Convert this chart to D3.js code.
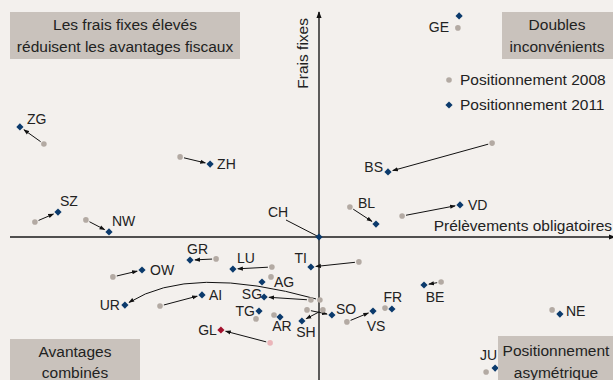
<!DOCTYPE html>
<html><head><meta charset="utf-8">
<script src="https://cdn.jsdelivr.net/npm/d3@7"></script>
<style>
html,body{margin:0;padding:0;background:#f3f0ed;}
svg{display:block;font-family:"Liberation Sans",Arial,sans-serif;}
</style></head>
<body><svg id="c" width="613" height="380"></svg>
<script>
// ---- data ----
const cantons = ["ZG","ZH","GE","BS","SZ","NW","CH","BL","VD","GR","OW","LU","TI","AG","UR","AI","SG","TG","AR","SH","SO","GL","BE","FR","VS","NE","JU"];
const prelev2008 = [-91.7,-46.3,46.3,57.7,-94.7,-77.7,null,10.3,27.7,-34.3,-68.7,-15.7,13.3,-16.0,0.3,-53.0,-2.7,-21.0,-15.0,1.3,-4.0,-16.3,40.7,22.0,9.3,77.7,55.7];
const frais2008  = [31.0,26.7,69.7,31.3,5.0,5.7,null,10.0,7.0,-7.3,-13.3,-10.0,-8.3,-13.3,-21.0,-23.0,-21.0,-27.3,-26.0,-24.3,-24.3,-35.3,-15.0,-23.7,-28.3,-24.3,-45.0];
const prelev2011 = [-99.7,-36.3,46.7,23.0,-87.0,-70.0,0,19.0,47.0,-43.0,-59.0,-28.7,-2.7,-19.0,-64.7,-39.0,-18.3,-20.0,-13.0,-5.7,4.3,-32.7,35.0,24.3,18.0,80.3,58.7];
const frais2011  = [36.7,24.3,73.7,21.7,8.3,1.7,0,4.3,10.7,-7.7,-11.0,-10.7,-10.0,-15.0,-22.7,-19.3,-20.0,-24.7,-26.7,-28.0,-26.0,-31.0,-16.0,-24.0,-24.7,-25.7,-43.7];
const highlighted = ["GL"];
const curvedMoves = {UR: [-43, -9]};          // bend point of the UR move (data units)
const legendLabels = ["Positionnement 2008", "Positionnement 2011"];
const quadrantTexts = [
  ["Les frais fixes élevés", "réduisent les avantages fiscaux"],
  ["Doubles", "inconvénients"],
  ["Avantages", "combinés"],
  ["Positionnement", "asymétrique"]
];
const axisTitles = ["Prélèvements obligatoires", "Frais fixes"];

// ---- label placement (px offsets from 2011 marker) ----
const labelPos = {
  ZG:[7,-8,"start"], ZH:[7,0,"start"], GE:[-10,11,"end"], BS:[-5,-5,"end"],
  SZ:[2,-11,"start"], NW:[3,-11,"start"], CH:[-41,-25,"middle"], BL:[-18,-21,"start"],
  VD:[8,0,"start"], GR:[-3,-11,"start"], OW:[8,0,"start"], LU:[4,-11,"start"],
  TI:[-4,-9,"end"], AG:[12,0,"start"], UR:[-5,0,"end"], AI:[7,0,"start"],
  SG:[-2,-3,"end"], TG:[-4,0,"end"], AR:[2,9,"middle"], SH:[4,11,"middle"],
  SO:[4,-6,"start"], GL:[-4,0,"end"], BE:[11,12,"middle"], FR:[1,-12,"middle"],
  VS:[3,15,"middle"], NE:[6,-3,"start"], JU:[-15,-13,"start"]
};

const W = 613, H = 380;
const svg = d3.select("#c");
svg.append("rect").attr("width", W).attr("height", H).attr("fill", "#f3f0ed");

const x = d3.scaleLinear().domain([-103, 98]).range([10, 613]);
const y = d3.scaleLinear().domain([-47.67, 75]).range([380, 12]);

const data = cantons.map((c, i) => ({
  code: c, x0: prelev2008[i], y0: frais2008[i], x1: prelev2011[i], y1: frais2011[i],
  hi: highlighted.includes(c)
}));

const defs = svg.append("defs");
defs.append("marker").attr("id", "ah").attr("viewBox", "0 -3 7 6")
  .attr("refX", 6).attr("refY", 0).attr("markerWidth", 6).attr("markerHeight", 5)
  .attr("markerUnits", "userSpaceOnUse").attr("orient", "auto")
  .append("path").attr("d", "M0,-2.5L7,0L0,2.5Z").attr("fill", "#111");
defs.append("marker").attr("id", "axh").attr("viewBox", "0 -4 8 8")
  .attr("refX", 7).attr("refY", 0).attr("markerWidth", 7).attr("markerHeight", 7)
  .attr("markerUnits", "userSpaceOnUse").attr("orient", "auto")
  .append("path").attr("d", "M0,-3L8,0L0,3Z").attr("fill", "#111");

// axes
svg.append("line").attr("x1", x.range()[0]).attr("x2", W + 2).attr("y1", y(0)).attr("y2", y(0))
  .attr("stroke", "#1a1a1a").attr("stroke-width", 1.4).attr("marker-end", "url(#axh)");
svg.append("line").attr("x1", x(0)).attr("x2", x(0)).attr("y1", H).attr("y2", y.range()[1])
  .attr("stroke", "#1a1a1a").attr("stroke-width", 1.4).attr("marker-end", "url(#axh)");

// axis titles
svg.append("text").attr("x", W - 1).attr("y", y(0) - 6).attr("text-anchor", "end")
  .attr("font-size", 15.5).attr("fill", "#222").text(axisTitles[0]);
svg.append("text").attr("transform", `translate(${x(0) - 11},${y.range()[1] + 6}) rotate(-90)`)
  .attr("text-anchor", "end").attr("font-size", 15.5).attr("fill", "#222").text(axisTitles[1]);

// movement arrows
const moves = svg.append("g");
data.forEach(d => {
  if (d.x0 == null) return;
  const ax = x(d.x0), ay = y(d.y0), bx = x(d.x1), by = y(d.y1);
  const dist = Math.hypot(bx - ax, by - ay);
  if (dist < 15) return;
  if (curvedMoves[d.code]) {
    const cx = x(curvedMoves[d.code][0]), cy = y(curvedMoves[d.code][1]);
    const s0 = Math.hypot(cx - ax, cy - ay), s1 = Math.hypot(bx - cx, by - cy);
    const sx = ax + (cx - ax) / s0 * 4, sy = ay + (cy - ay) / s0 * 4;
    const ex = bx - (bx - cx) / s1 * 5, ey = by - (by - cy) / s1 * 5;
    const p = d3.path(); p.moveTo(sx, sy); p.quadraticCurveTo(cx, cy, ex, ey);
    moves.append("path").attr("d", p.toString()).attr("fill", "none")
      .attr("stroke", "#111").attr("stroke-width", 1).attr("marker-end", "url(#ah)");
  } else {
    const ux = (bx - ax) / dist, uy = (by - ay) / dist;
    moves.append("line").attr("x1", ax + ux * 4).attr("y1", ay + uy * 4)
      .attr("x2", bx - ux * 5).attr("y2", by - uy * 5)
      .attr("stroke", "#111").attr("stroke-width", 1).attr("marker-end", "url(#ah)");
  }
});

// CH leader line
const ch = data.find(d => d.code === "CH");
svg.append("line").attr("x1", x(ch.x1) - 33).attr("y1", y(ch.y1) - 17)
  .attr("x2", x(ch.x1)).attr("y2", y(ch.y1)).attr("stroke", "#111").attr("stroke-width", 1);

// 2008 points
svg.append("g").selectAll("circle").data(data.filter(d => d.x0 != null)).join("circle")
  .attr("cx", d => x(d.x0)).attr("cy", d => y(d.y0)).attr("r", 2.8)
  .attr("fill", d => d.hi ? "#ebb5b9" : "#b3aaa3");

// 2011 points
const diamond = d3.symbol(d3.symbolSquare, 26);
svg.append("g").selectAll("path").data(data).join("path")
  .attr("d", diamond)
  .attr("transform", d => `translate(${x(d.x1)},${y(d.y1)}) rotate(45)`)
  .attr("fill", d => d.hi ? "#a3112d" : "#0b3a6c");

// labels
svg.append("g").selectAll("text").data(data).join("text")
  .attr("x", d => x(d.x1) + labelPos[d.code][0])
  .attr("y", d => y(d.y1) + labelPos[d.code][1])
  .attr("dy", "0.35em").attr("text-anchor", d => labelPos[d.code][2])
  .attr("font-size", 14).attr("fill", "#222").text(d => d.code);

// quadrant boxes
const boxes = [
  {x: 10, y: 12, w: 230, h: 47, cx: 125, ly: [25, 47]},
  {x: 502, y: 12, w: 111, h: 47, cx: 557, ly: [25, 47]},
  {x: 10, y: 339, w: 130, h: 41, cx: 75, ly: [352, 373]},
  {x: 498, y: 336, w: 115, h: 44, cx: 556, ly: [351, 373]}
];
boxes.forEach((b, i) => {
  svg.append("rect").attr("x", b.x).attr("y", b.y).attr("width", b.w).attr("height", b.h).attr("fill", "#c9c2bc");
  quadrantTexts[i].forEach((t, j) => {
    svg.append("text").attr("x", b.cx).attr("y", b.ly[j]).attr("dy", "0.35em")
      .attr("text-anchor", "middle").attr("font-size", 15.5).attr("fill", "#222").text(t);
  });
});

// legend
const lg = svg.append("g").attr("transform", "translate(449,80)");
lg.append("circle").attr("cx", 0).attr("cy", 0).attr("r", 2.8).attr("fill", "#b3aaa3");
lg.append("path").attr("d", diamond).attr("transform", "translate(0,25) rotate(45)").attr("fill", "#0b3a6c");
legendLabels.forEach((t, i) => {
  lg.append("text").attr("x", 11).attr("y", i * 25).attr("dy", "0.35em")
    .attr("font-size", 15.5).attr("fill", "#222").text(t);
});
</script></body></html>
